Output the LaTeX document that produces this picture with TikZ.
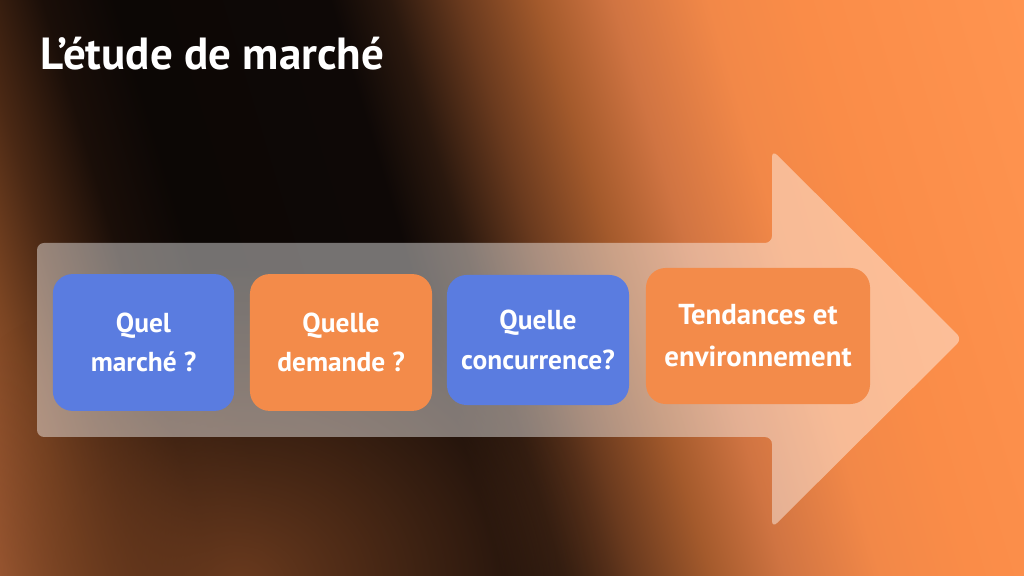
\documentclass[tikz,border=0pt]{standalone}
\usepackage{fontspec}
\setmainfont{PT Sans}
\usetikzlibrary{positioning, fadings}

\definecolor{quelblue}{HTML}{5A7CE0}
\definecolor{quelorange}{HTML}{F38B4A}
\definecolor{bgA}{HTML}{B0643A}
\definecolor{bgB}{HTML}{7A4422}
\definecolor{bgC}{HTML}{4A2814}
\definecolor{bgD}{HTML}{1A0E08}
\definecolor{bgE}{HTML}{0C0705}
\definecolor{bgF}{HTML}{0E0806}
\definecolor{bgG}{HTML}{2A180E}
\definecolor{bgH}{HTML}{6A3A1E}
\definecolor{bgI}{HTML}{A45A2C}
\definecolor{bgJ}{HTML}{D07442}
\definecolor{bgK}{HTML}{F28848}
\definecolor{bgL}{HTML}{FA8C48}
\definecolor{bgM}{HTML}{FF9450}
\definecolor{bgbrown}{HTML}{6A3A1E}

\pgfdeclarehorizontalshading{bgshading}{100bp}{color(0bp)=(bgA); color(25bp)=(bgA);
  color(28.5bp)=(bgB); color(31bp)=(bgC); color(34bp)=(bgD); color(37bp)=(bgE);
  color(46bp)=(bgF); color(48.5bp)=(bgG); color(51.5bp)=(bgH); color(54.7bp)=(bgI);
  color(57.8bp)=(bgJ); color(61.8bp)=(bgK); color(65.6bp)=(bgL);
  color(75bp)=(bgM); color(100bp)=(bgM)}
\tikzfading[name=bottomglow, inner color=transparent!0, outer color=transparent!100]

\begin{document}
\begin{tikzpicture}[x=0.025cm, y=0.025cm]

\tikzset{stepbox/.style = {rounded corners=14pt, minimum width=4.55cm, minimum height=3.42cm, text=white, align=center, font=\bfseries\fontsize{19.5}{28}\selectfont}}
\tikzset{bigarrow/.style = {fill=white, opacity=0.43, rounded corners=5pt}}
\useasboundingbox (0,0) rectangle (1024,576);
%background
\begin{scope}
\clip (0,0) rectangle (1024,576);
\begin{scope}[transform canvas={xslant=-0.3}]
\shade[shading=bgshading] (0,0) rectangle (1197,576);
\end{scope}
\fill[bgbrown, opacity=1, path fading=bottomglow] (240,-10) ellipse [x radius=380, y radius=320];
\end{scope}
%title
\node[anchor=base west, text=white, font=\bfseries\fontsize{32}{38}\selectfont] (title) at (36,506) {L’étude de marché};
%arrow
\fill[bigarrow] (37,139) -- (772,139) -- (772,48) -- (962,237) -- (772,426) -- (772,333) -- (37,333) -- cycle;
%boxes
\node[stepbox, fill=quelblue, minimum width=4.53cm] (marche) at (143.5,233.5) {Quel\\marché ?};
\node[stepbox, fill=quelorange] (demande) at (341,233.5) {Quelle\\demande ?};
\node[stepbox, fill=quelblue, minimum height=3.25cm] (concurrence) at (538,236) {Quelle\\concurrence?};
\node[stepbox, fill=quelorange, minimum width=5.6cm, minimum height=3.4cm, font=\bfseries\fontsize{20.5}{30}\selectfont] (tendances) at (758,240) {Tendances et\\environnement};

\end{tikzpicture}
\end{document}
